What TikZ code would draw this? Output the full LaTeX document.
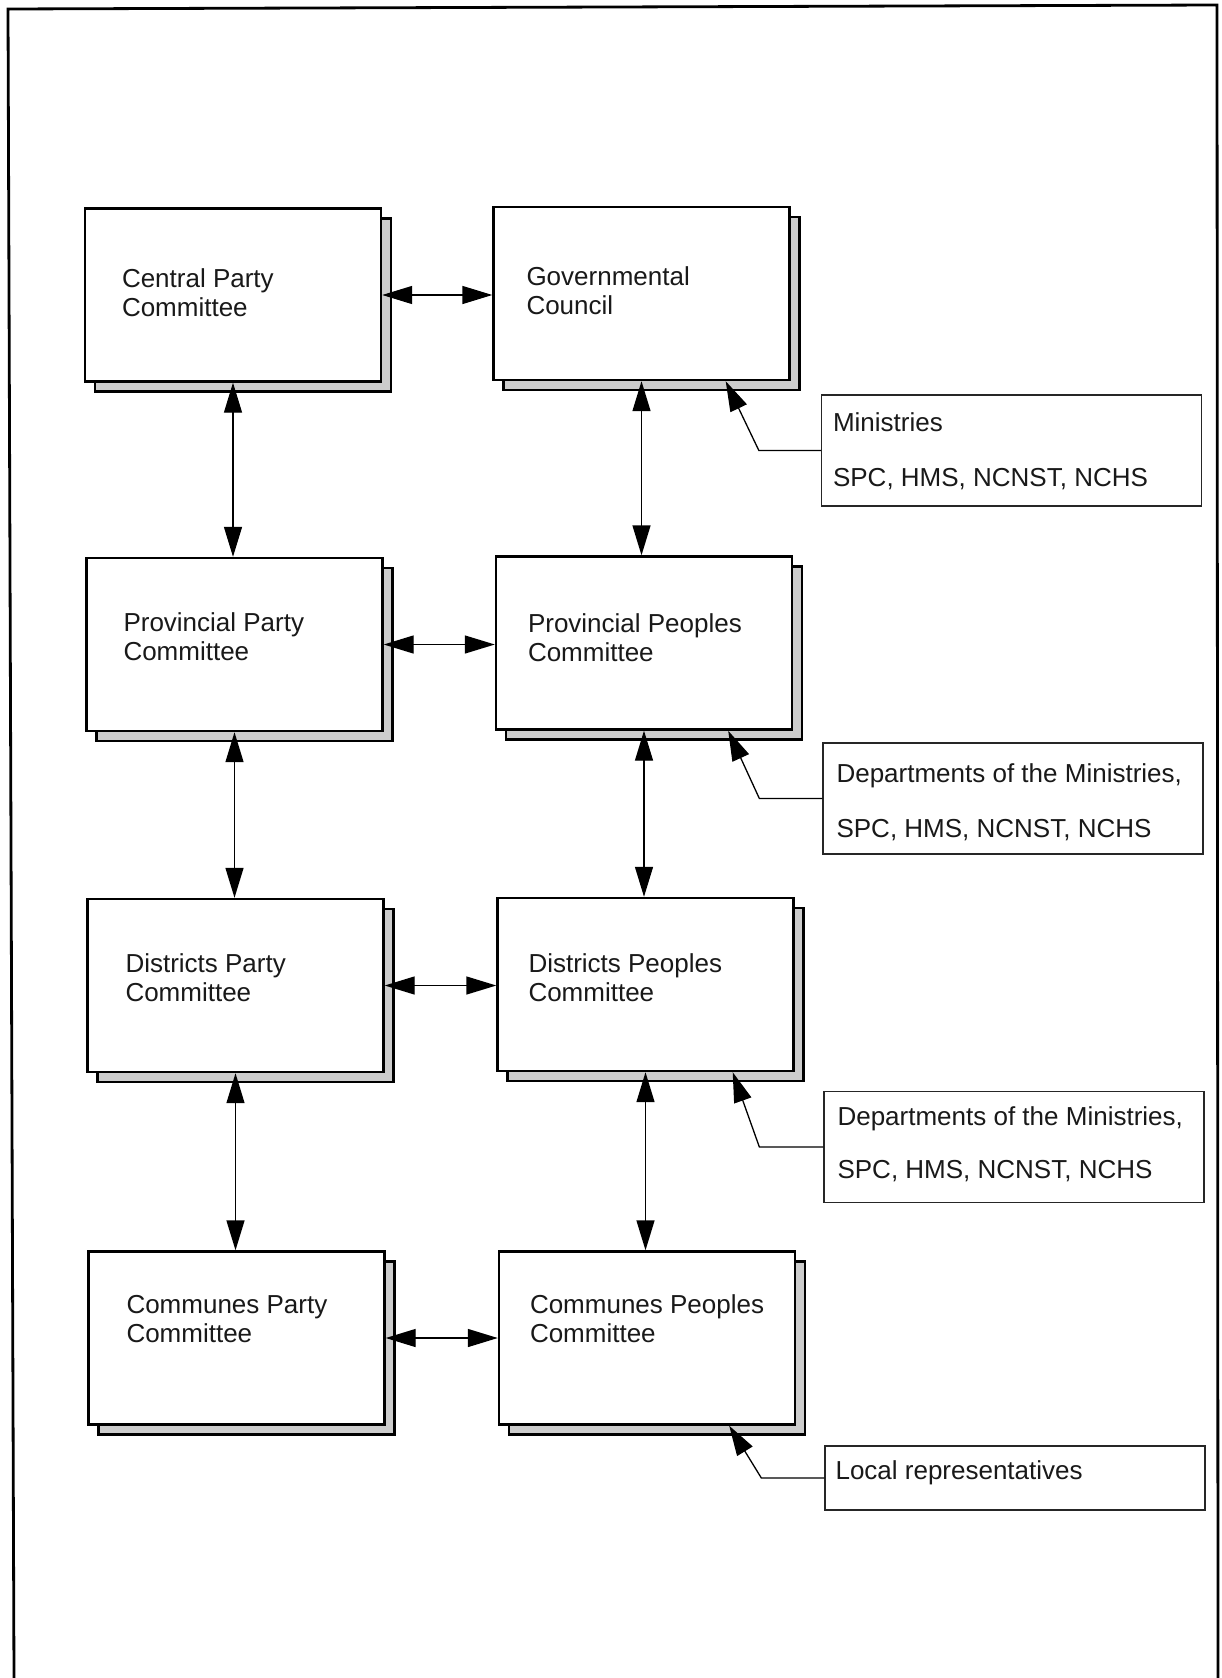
\documentclass[tikz,border=0pt]{standalone}
\usepackage{fontspec}
\setmainfont{Liberation Sans}
\usetikzlibrary{arrows.meta,shadows}
\newcommand{\twoln}[3]{\vtop{\baselineskip=#3\hbox{#1}\hbox{#2}}}
\begin{document}
\begin{tikzpicture}[x=1pt,y=-1pt,
  orgbox/.style={draw=black, line width=2.4pt, fill=white, minimum width=296pt, minimum height=173pt, inner sep=0pt,
    copy shadow={shadow xshift=10pt, shadow yshift=-10pt, fill=black!20, draw=black, line width=2.4pt}},
  callbox/.style={draw=black!85, line width=1.3pt, fill=white, minimum width=380pt, minimum height=111pt, inner sep=0pt},
  lbl/.style={anchor=base west, inner sep=0pt, font=\fontsize{26pt}{29pt}\selectfont, text=black!90},
  biarrow/.style={line width=1.4pt, {Triangle[length=30pt,width=18pt]}-{Triangle[length=30pt,width=18pt]}},
  callarrow/.style={line width=1.3pt, -{Triangle[length=30pt,width=18pt]}},
]
\useasboundingbox (0,0) rectangle (1222,1678);
% outer frame (open at the bottom)
\draw[line width=2.8pt, line join=miter] (14,1678) -- (8,9) -- (1217,5) -- (1218,1678);

% committee boxes
\node[orgbox] (cpc)  at (233,295) {};
\node[orgbox] (gc)   at (641.5,293.5) {};
\node[orgbox] (ppc)  at (234.5,644.5) {};
\node[orgbox] (ppec) at (644,643) {};
\node[orgbox] (dpc)  at (235.5,985.5) {};
\node[orgbox] (dpec) at (645.5,984.5) {};
\node[orgbox] (cpc4) at (236.5,1338) {};
\node[orgbox] (cpec) at (647,1338) {};

% labels
\node[lbl] (cpc-t)  at ([shift={(38,80)}]cpc.north west)  {\twoln{Central Party}{Committee}{29pt}};
\node[lbl] (gc-t)   at ([shift={(34,80)}]gc.north west)   {\twoln{Governmental}{Council}{29pt}};
\node[lbl] (ppc-t)  at ([shift={(38,75)}]ppc.north west)  {\twoln{Provincial Party}{Committee}{29pt}};
\node[lbl] (ppec-t) at ([shift={(33,77)}]ppec.north west) {\twoln{Provincial Peoples}{Committee}{29pt}};
\node[lbl] (dpc-t)  at ([shift={(39,75)}]dpc.north west)  {\twoln{Districts Party}{Committee}{29pt}};
\node[lbl] (dpec-t) at ([shift={(32,76)}]dpec.north west) {\twoln{Districts Peoples}{Committee}{29pt}};
\node[lbl] (cpc4-t) at ([shift={(39,63)}]cpc4.north west) {\twoln{Communes Party}{Committee}{29pt}};
\node[lbl] (cpec-t) at ([shift={(32,63)}]cpec.north west) {\twoln{Communes Peoples}{Committee}{29pt}};

% horizontal links
\draw[biarrow] (cpc.east)  -- (cpc.east -| gc.west);
\draw[biarrow] (ppc.east)  -- (ppc.east -| ppec.west);
\draw[biarrow] (dpc.east)  -- (dpc.east -| dpec.west);
\draw[biarrow] (cpc4.east) -- (cpc4.east -| cpec.west);

% vertical links
\draw[biarrow] (cpc.south)  -- (cpc.south |- ppc.north);
\draw[biarrow] (ppc.south)  -- (ppc.south |- dpc.north);
\draw[biarrow] (dpc.south)  -- (dpc.south |- cpc4.north);
\draw[biarrow] (gc.south)   -- (gc.south |- ppec.north);
\draw[biarrow] (ppec.south) -- (ppec.south |- dpec.north);
\draw[biarrow] (dpec.south) -- (dpec.south |- cpec.north);

% callouts
\node[callbox] (min)  at (1011.5,450.5) {};
\node[callbox] (dep1) at (1013,798.5) {};
\node[callbox] (dep2) at (1014,1147) {};
\node[callbox, minimum height=64pt] (loc) at (1015,1478) {};

\node[lbl] (min-t)  at ([shift={(12,37)}]min.north west)  {\twoln{Ministries}{SPC, HMS, NCNST, NCHS}{55pt}};
\node[lbl] (dep1-t) at ([shift={(14,40)}]dep1.north west) {\twoln{Departments of the Ministries,}{SPC, HMS, NCNST, NCHS}{55pt}};
\node[lbl] (dep2-t) at ([shift={(14,35)}]dep2.north west) {\twoln{Departments of the Ministries,}{SPC, HMS, NCNST, NCHS}{53pt}};
\node[lbl] (loc-t)  at ([shift={(11,34)}]loc.north west)  {Local representatives};

\draw[callarrow] (min.west)  -- ([xshift=-62pt]min.west)  -- ([xshift=-65pt]gc.south east);
\draw[callarrow] (dep1.west) -- ([xshift=-63pt]dep1.west) -- ([xshift=-65pt]ppec.south east);
\draw[callarrow] (dep2.west) -- ([xshift=-64pt]dep2.west) -- ([xshift=-62pt]dpec.south east);
\draw[callarrow] (loc.west)  -- ([xshift=-63pt]loc.west)  -- ([xshift=-67pt]cpec.south east);
\end{tikzpicture}
\end{document}
